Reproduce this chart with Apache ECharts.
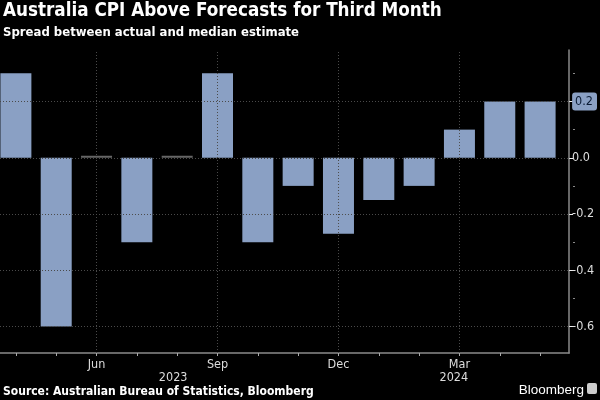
<!DOCTYPE html>
<html>
<head>
<meta charset="utf-8">
<script src="https://cdn.jsdelivr.net/npm/echarts@6/dist/echarts.min.js"></script>
<style>
html,body{margin:0;padding:0;background:#000;}
#chart{width:600px;height:400px;}
</style>
</head>
<body>
<div id="chart"></div>
<script>
// ---- data ----
const months = ['2023-04','2023-05','2023-06','2023-07','2023-08','2023-09','2023-10','2023-11','2023-12','2024-01','2024-02','2024-03','2024-04','2024-05'];
const spread = [0.3, -0.6, 0, -0.3, 0, 0.3, -0.3, -0.1, -0.27, -0.15, -0.1, 0.1, 0.2, 0.2];
const labelMonths = { '06': 'Jun', '09': 'Sep', '12': 'Dec', '03': 'Mar' };
const yTicks = [-0.6, -0.4, -0.2, 0.0, 0.2];
const yMinorTicks = [-0.5, -0.3, -0.1, 0.1, 0.3];
const years = ['2023', '2024'];
const yearLabelPos = [3.9, 10.86];

// ---- derived ----
const idx = months.map((m, i) => i);
const labelIdx = idx.filter(i => labelMonths[months[i].slice(5)]);
const lastVal = spread[spread.length - 1];

const BAR = '#8aa0c4';
const GRID = '#4a4a4a';
const AXIS = '#8a8a8a';
const FONT = '"DejaVu Sans Condensed", "DejaVu Sans"';

const chart = echarts.init(document.getElementById('chart'), null, { renderer: 'canvas' });
chart.setOption({
  backgroundColor: '#000',
  animation: false,
  title: {
    text: 'Australia CPI Above Forecasts for Third Month',
    subtext: 'Spread between actual and median estimate',
    left: 3, top: 0, padding: [2, 0, 0, 0], itemGap: 5,
    textStyle: { color: '#fff', fontFamily: FONT, fontWeight: 'bold', fontSize: 18.7 },
    subtextStyle: { color: '#fff', fontFamily: FONT, fontWeight: 'bold', fontSize: 13 }
  },
  graphic: [
    { type: 'text', left: 3, bottom: 2, style: { text: 'Source: Australian Bureau of Statistics, Bloomberg', fill: '#fff', font: 'bold 12px ' + FONT } },
    { type: 'text', right: 16, bottom: 3, style: { text: 'Bloomberg', fill: '#fff', font: '13.5px "Liberation Sans"' } },
    { type: 'rect', right: 3, bottom: 6, shape: { width: 10, height: 11, r: 2 }, style: { fill: '#ccc' } }
  ],
  grid: { left: 0, right: 27, top: 50, bottom: 47, containLabel: false },
  xAxis: [{
    type: 'value', min: -0.394, max: 13.72, position: 'bottom',
    axisLine: { show: true, onZero: false, lineStyle: { color: AXIS, width: 1.5 } },
    axisTick: { show: false },
    axisLabel: {
      customValues: labelIdx, color: '#ddd', fontFamily: FONT, fontSize: 12.5, margin: 5,
      formatter: v => labelMonths[months[Math.round(v)].slice(5)]
    },
    splitLine: { show: false }
  }, {
    type: 'value', min: -0.394, max: 13.72, position: 'bottom',
    axisLine: { show: false, onZero: false },
    axisTick: { show: true, customValues: idx, length: 3, lineStyle: { color: '#aaa', width: 1 } },
    splitLine: { show: false },
    axisLabel: {
      customValues: yearLabelPos, color: '#ddd', fontFamily: FONT, fontSize: 12.5, margin: 18,
      formatter: v => years[yearLabelPos.indexOf(v)]
    }
  }],
  yAxis: [{
    type: 'value', position: 'right', min: -0.694, max: 0.383,
    axisLine: { show: true, onZero: false, lineStyle: { color: AXIS, width: 1.5 } },
    axisTick: { show: true, customValues: yTicks, length: 4, lineStyle: { color: '#eee' } },
    axisLabel: {
      customValues: yTicks, color: '#ddd', fontFamily: FONT, fontSize: 12.5, margin: 3,
      formatter: v => Math.abs(v - lastVal) < 1e-9 ? '{hl|' + v.toFixed(1) + '}' : v.toFixed(1),
      rich: {
        hl: { backgroundColor: BAR, color: '#0a1a33', fontFamily: FONT, fontSize: 12.5, padding: [3, 4, 2, 3], borderRadius: 3 }
      }
    },
    splitLine: { show: false }
  }, {
    type: 'value', position: 'left', offset: -573, min: -0.694, max: 0.383,
    axisLine: { show: false, onZero: false },
    axisTick: { show: true, inside: true, customValues: yMinorTicks, length: 2, lineStyle: { color: AXIS } },
    axisLabel: { show: false }, splitLine: { show: false }
  }],
  series: [{
    type: 'line', data: [], z: 1, silent: true,
    markLine: {
      silent: true, symbol: 'none', animation: false,
      label: { show: false },
      lineStyle: { color: GRID, type: [1, 2], width: 1 },
      data: yTicks.map(v => ({ yAxis: v })).concat(labelIdx.map(i => ({ xAxis: i })))
    }
  }, {
    type: 'bar', z: 3, barWidth: 31, barMinHeight: 2,
    data: spread.map((v, i) => ({
      value: [i, v],
      itemStyle: { color: v === 0 ? '#666' : BAR }
    }))
  }]
});
</script>
</body>
</html>
